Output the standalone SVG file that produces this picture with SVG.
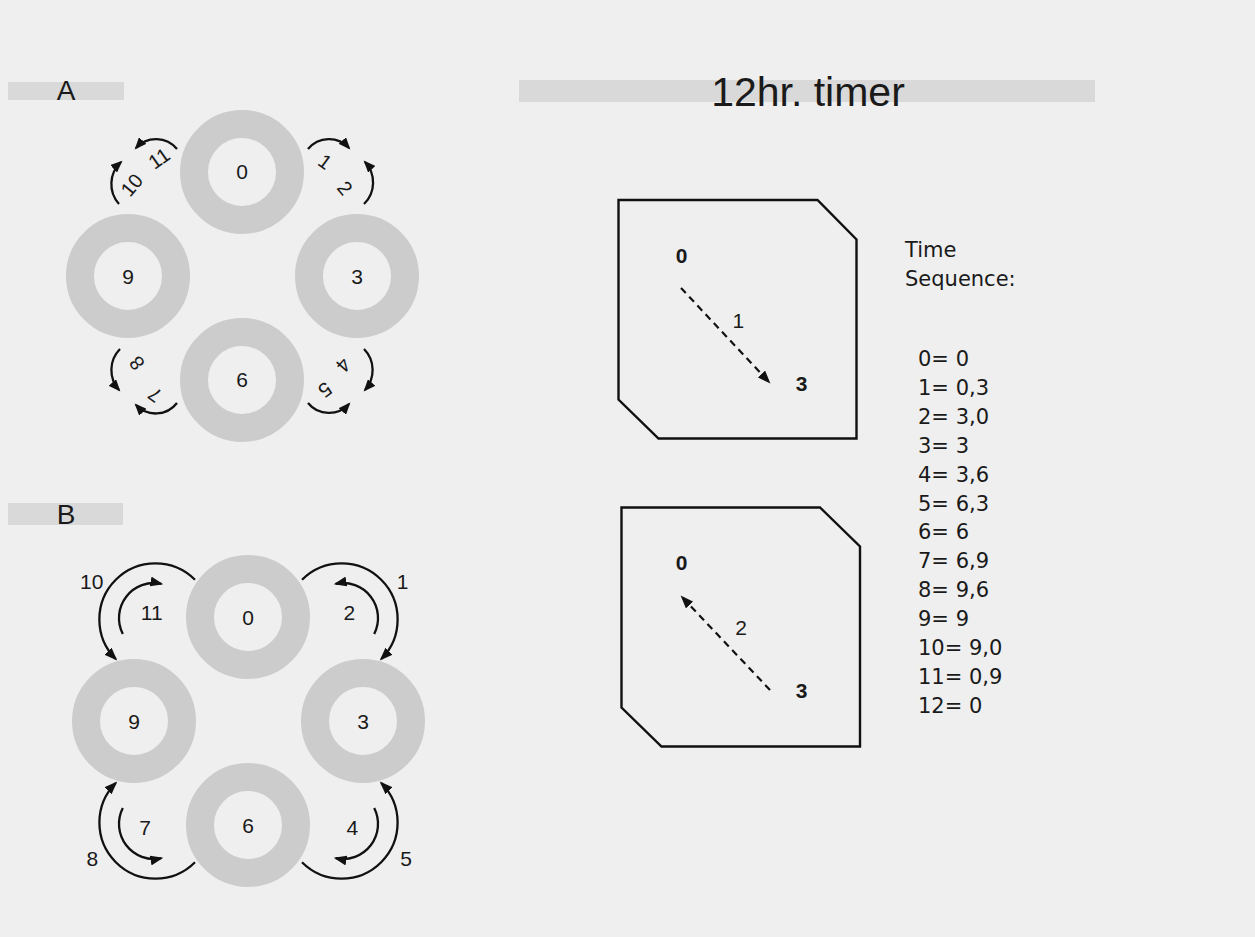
<svg xmlns="http://www.w3.org/2000/svg" width="1255" height="937" viewBox="0 0 1255 937">
  <defs>
    <style>
      .bg { fill: #efefef; }
      .bar { fill: #d9d9d9; }
      .ring { fill: none; stroke: #cccccc; stroke-width: 28; }
      .t { font-family: "Liberation Sans", Arial, sans-serif; fill: #1a1a1a; }
      .hd { font-size: 28px; text-anchor: middle; }
      .title { font-size: 41px; text-anchor: middle; }
      .num { font-size: 21px; text-anchor: middle; }
      .lbl { font-size: 20px; text-anchor: middle; }
      .bold { font-weight: bold; }
      .seq { font-family: "DejaVu Sans", "Liberation Sans", sans-serif; font-size: 21px; }
      .arc { fill: none; stroke: #111; stroke-width: 2.3; }
      .arcA { marker-end: url(#headS); }
      .arcB { marker-end: url(#head); }
      .dash { fill: none; stroke: #111; stroke-width: 2.2; stroke-dasharray: 7 5; marker-end: url(#head); }
      .box { fill: none; stroke: #111; stroke-width: 2.4; }
    </style>
    <marker id="head" markerUnits="userSpaceOnUse" markerWidth="14" markerHeight="10" refX="11" refY="5" orient="auto">
      <path d="M0,0 L13,5 L0,10 Z" fill="#111"/>
    </marker>
    <marker id="headS" markerUnits="userSpaceOnUse" markerWidth="13" markerHeight="10" refX="10" refY="5" orient="auto">
      <path d="M0,0 L12,5 L0,10 Z" fill="#111"/>
    </marker>
  </defs>

  <rect class="bg" x="0" y="0" width="1255" height="937"/>

  <!-- section headers -->
  <g id="header-a">
    <rect class="bar" x="8" y="82" width="116" height="18"/>
    <text class="t hd" x="66" y="100">A</text>
  </g>
  <g id="header-b">
    <rect class="bar" x="8" y="503" width="115" height="22"/>
    <text class="t hd" x="66" y="524">B</text>
  </g>
  <g id="header-title">
    <rect class="bar" x="519" y="80" width="576" height="22"/>
    <text class="t title" x="808" y="106">12hr. timer</text>
  </g>

  <!-- Section A: dial positions -->
  <g id="a-0"><circle class="ring" cx="242" cy="172" r="48"/><text class="t num" x="242" y="179">0</text></g>
  <g id="a-9"><circle class="ring" cx="128" cy="276" r="48"/><text class="t num" x="128" y="283.5">9</text></g>
  <g id="a-3"><circle class="ring" cx="357" cy="276" r="48"/><text class="t num" x="357" y="283.5">3</text></g>
  <g id="a-6"><circle class="ring" cx="242" cy="380" r="48"/><text class="t num" x="242" y="387">6</text></g>

  <!-- Section B: dial positions -->
  <g id="b-0"><circle class="ring" cx="248" cy="617" r="48"/><text class="t num" x="248" y="624.5">0</text></g>
  <g id="b-9"><circle class="ring" cx="134" cy="721" r="48"/><text class="t num" x="134" y="728.5">9</text></g>
  <g id="b-3"><circle class="ring" cx="363" cy="721" r="48"/><text class="t num" x="363" y="728.5">3</text></g>
  <g id="b-6"><circle class="ring" cx="248" cy="825" r="48"/><text class="t num" x="248" y="832.5">6</text></g>

  <!-- connectors -->
  <g id="connectors">
    <!-- A: short arcs between neighbouring positions -->
    <path class="arc arcA" d="M177,149 A27,27 0 0 0 136,148"/>
    <path class="arc arcA" d="M119,204 A30,30 0 0 1 121,162"/>
    <path class="arc arcA" d="M308,149 A27,27 0 0 1 349,148"/>
    <path class="arc arcA" d="M364,204 A30,30 0 0 0 365,162"/>
    <path class="arc arcA" d="M364,349 A30,30 0 0 1 365,390"/>
    <path class="arc arcA" d="M308,403 A27,27 0 0 0 349,404"/>
    <path class="arc arcA" d="M120,349 A30,30 0 0 0 119,390"/>
    <path class="arc arcA" d="M177,403 A27,27 0 0 1 136,405"/>

    <!-- B: outer and inner loops -->
    <path class="arc arcB" d="M302,579.8 A56,56 0 1 1 381.2,659"/>
    <path class="arc arcB" d="M374.2,633.9 A35,35 0 0 0 335.7,583.8"/>
    <path class="arc arcB" d="M195,579.8 A56,56 0 1 0 115.8,659"/>
    <path class="arc arcB" d="M122.8,633.9 A35,35 0 0 1 161.3,583.8"/>
    <path class="arc arcB" d="M302,862.2 A56,56 0 1 0 381.2,783"/>
    <path class="arc arcB" d="M374.2,808.1 A35,35 0 0 1 335.7,858.2"/>
    <path class="arc arcB" d="M195,862.2 A56,56 0 1 1 115.8,783"/>
    <path class="arc arcB" d="M122.8,808.1 A35,35 0 0 0 161.3,858.2"/>

    <!-- timer boxes: dashed transitions -->
    <path class="dash" d="M681,288 L769,382"/>
    <path class="dash" d="M770,690 L682,597"/>
  </g>

  <!-- A: step labels set along the circle -->
  <g id="a-labels">
    <text class="t lbl" transform="translate(131.7,185) rotate(-50)" y="7">10</text>
    <text class="t lbl" transform="translate(159,158.3) rotate(-35)" y="7">11</text>
    <text class="t lbl" transform="translate(325,161.7) rotate(36)" y="7">1</text>
    <text class="t lbl" transform="translate(345,188) rotate(50)" y="7">2</text>
    <text class="t lbl" transform="translate(343.3,365) rotate(131)" y="7">4</text>
    <text class="t lbl" transform="translate(325,390) rotate(144)" y="7">5</text>
    <text class="t lbl" transform="translate(155,395) rotate(216)" y="7">7</text>
    <text class="t lbl" transform="translate(136.7,363.3) rotate(230)" y="7">8</text>
  </g>

  <!-- B: step labels -->
  <g id="b-labels">
    <text class="t num" x="91.7" y="589">10</text>
    <text class="t num" x="402.7" y="589">1</text>
    <text class="t num" x="151.7" y="620">11</text>
    <text class="t num" x="349.3" y="620">2</text>
    <text class="t num" x="145" y="835">7</text>
    <text class="t num" x="352.3" y="835">4</text>
    <text class="t num" x="92.3" y="866">8</text>
    <text class="t num" x="406" y="866">5</text>
  </g>

  <!-- timer state boxes -->
  <g id="box-1">
    <path class="box" d="M618.5,200 L817.5,200 L856.5,239.5 L856.5,438.5 L658.5,438.5 L618.5,399.5 Z"/>
    <text class="t num bold" x="681.7" y="262.5">0</text>
    <text class="t num bold" x="801.7" y="390.5">3</text>
    <text class="t num" x="738.3" y="327.5">1</text>
  </g>
  <g id="box-2">
    <path class="box" d="M621.5,507.5 L820,507.5 L860,546.5 L860,746.5 L661.5,746.5 L621.5,707.5 Z"/>
    <text class="t num bold" x="681.7" y="570">0</text>
    <text class="t num bold" x="801.7" y="698">3</text>
    <text class="t num" x="741" y="635">2</text>
  </g>

  <!-- time sequence listing -->
  <g id="sequence">
    <text class="t seq" x="905" y="256.5">Time</text>
    <text class="t seq" x="905" y="286">Sequence:</text>
    <text class="t seq" x="918" y="366">0= 0</text>
    <text class="t seq" x="918" y="394.9">1= 0,3</text>
    <text class="t seq" x="918" y="423.8">2= 3,0</text>
    <text class="t seq" x="918" y="452.7">3= 3</text>
    <text class="t seq" x="918" y="481.6">4= 3,6</text>
    <text class="t seq" x="918" y="510.5">5= 6,3</text>
    <text class="t seq" x="918" y="539.4">6= 6</text>
    <text class="t seq" x="918" y="568.3">7= 6,9</text>
    <text class="t seq" x="918" y="597.2">8= 9,6</text>
    <text class="t seq" x="918" y="626.1">9= 9</text>
    <text class="t seq" x="918" y="655">10= 9,0</text>
    <text class="t seq" x="918" y="683.9">11= 0,9</text>
    <text class="t seq" x="918" y="712.8">12= 0</text>
  </g>
</svg>
